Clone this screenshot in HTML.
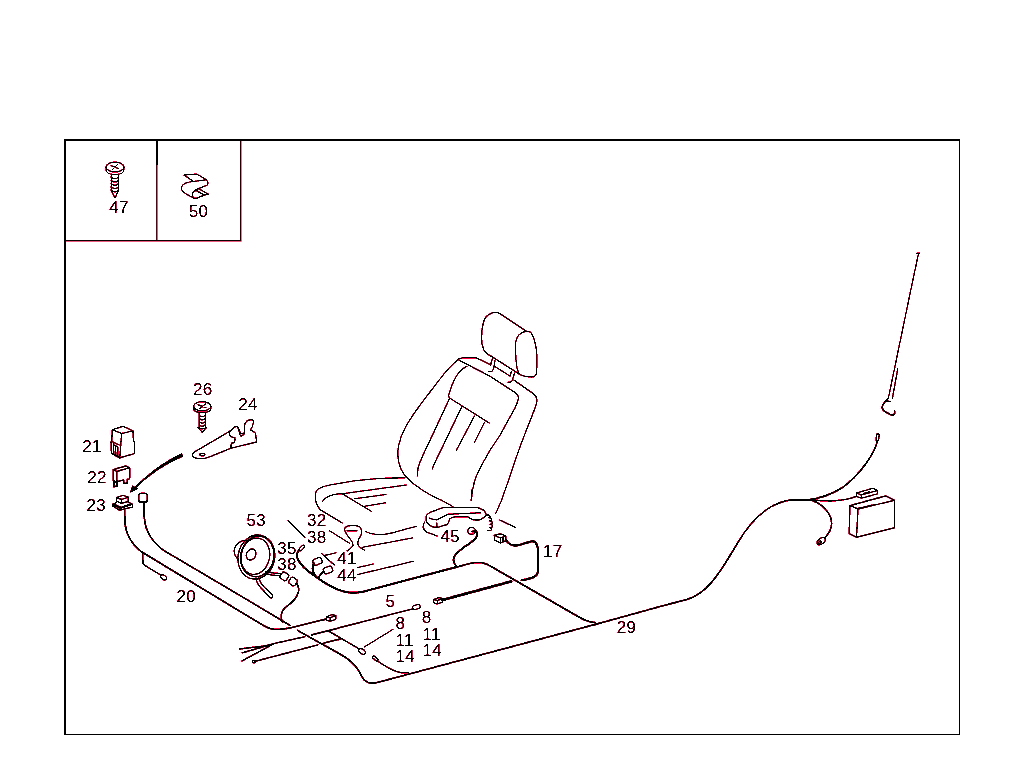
<!DOCTYPE html>
<html>
<head>
<meta charset="utf-8">
<title>Diagram</title>
<style>
html,body{margin:0;padding:0;background:#fff;}
body{width:1024px;height:784px;overflow:hidden;}
svg{display:block;}
svg text{font-family:"Liberation Sans",sans-serif;font-size:17px;fill:#0c0003;letter-spacing:0.3px;}
.t{fill:none;stroke:#0c0003;stroke-width:1.05;stroke-linecap:round;stroke-linejoin:round;}
.c{fill:none;stroke:#0c0003;stroke-width:1.5;stroke-linecap:round;stroke-linejoin:round;}
.k{fill:none;stroke:#0c0003;stroke-width:2.4;stroke-linecap:round;stroke-linejoin:round;}
.w{fill:#fff;}
</style>
</head>
<body>
<svg width="1024" height="784" viewBox="0 0 1024 784">
<rect x="0" y="0" width="1024" height="784" fill="#fff"/>

<defs>
<filter id="q" x="0" y="0" width="1024" height="784" filterUnits="userSpaceOnUse" color-interpolation-filters="sRGB">
<feComponentTransfer in="SourceAlpha" result="lo"><feFuncA type="discrete" tableValues="0 0 0 1 1 1 1 1 1 1 1 1"/></feComponentTransfer>
<feFlood flood-color="#ff0040" result="rf"/>
<feComposite operator="in" in="rf" in2="lo" result="red"/>
<feComponentTransfer in="SourceAlpha" result="hi"><feFuncA type="discrete" tableValues="0 0 0 0 0 0 1 1 1 1 1 1"/></feComponentTransfer>
<feFlood flood-color="#000000" result="bf"/>
<feComposite operator="in" in="bf" in2="hi" result="blk"/>
<feMerge><feMergeNode in="red"/><feMergeNode in="blk"/></feMerge>
</filter>
<filter id="qt" x="0" y="0" width="1024" height="784" filterUnits="userSpaceOnUse" color-interpolation-filters="sRGB">
<feComponentTransfer in="SourceAlpha" result="lo"><feFuncA type="discrete" tableValues="0 0 0 0 1 1 1 1 1 1 1 1"/></feComponentTransfer>
<feFlood flood-color="#ff0040" result="rf"/>
<feComposite operator="in" in="rf" in2="lo" result="red"/>
<feComponentTransfer in="SourceAlpha" result="hi"><feFuncA type="discrete" tableValues="0 0 0 0 0 0 0 1 1 1 1 1"/></feComponentTransfer>
<feFlood flood-color="#000000" result="bf"/>
<feComposite operator="in" in="bf" in2="hi" result="blk"/>
<feMerge><feMergeNode in="red"/><feMergeNode in="blk"/></feMerge>
</filter>
</defs>
<!-- FRAME -->
<g fill="#000" shape-rendering="crispEdges">
<rect x="64" y="139" width="2" height="596"/>
<rect x="64" y="139" width="896" height="2"/>
<rect x="959" y="139" width="1" height="596"/>
<rect x="64" y="734" width="896" height="1"/>
<rect x="156" y="141" width="2" height="24"/>
</g>
<g fill="#0a0002">
<rect x="156.1" y="165" width="1.2" height="76"/>
<rect x="240" y="141" width="1.2" height="100"/>
<rect x="66" y="240" width="175.2" height="1.2"/>
</g>
<g fill="#ff0040" fill-opacity="0.8">
<rect x="157.3" y="165" width="0.6" height="75"/>
<rect x="241.2" y="141" width="0.5" height="100"/>
<rect x="66" y="241.2" width="175.7" height="0.7"/>
</g>

<!-- LABELS -->
<g id="labels" filter="url(#qt)">
<text x="109.3" y="212.6">47</text>
<text x="188.7" y="217">50</text>
<text x="193" y="395">26</text>
<text x="238.3" y="410">24</text>
<text x="82.3" y="452">21</text>
<text x="87.3" y="483">22</text>
<text x="86.6" y="511">23</text>
<text x="246.4" y="526">53</text>
<text x="307.1" y="526">32</text>
<text x="307.1" y="542.5">38</text>
<text x="277.3" y="553.5">35</text>
<text x="277.3" y="570">38</text>
<text x="337.2" y="564">41</text>
<text x="337.2" y="581">44</text>
<text x="440.6" y="542">45</text>
<text x="543" y="556.5">17</text>
<text x="385.6" y="607">5</text>
<text x="395.6" y="629">8</text>
<text x="395.6" y="645.5">11</text>
<text x="395.6" y="661.5">14</text>
<text x="421.8" y="622.5">8</text>
<text x="422.6" y="639.5">11</text>
<text x="422.6" y="655.5">14</text>
<text x="176.4" y="601.5">20</text>
<text x="616.8" y="633">29</text>
</g>

<!-- PARTS -->
<g id="parts" filter="url(#q)">
<!-- screw 47 -->
<g class="t">
<ellipse cx="115" cy="167" rx="8.9" ry="5"/>
<path d="M106.1 167 V170 C106.1 176 123.9 176 123.9 170 V167"/>
<path d="M111 165.5 L118.5 168.5 M117.5 164.5 L112.5 169.5"/>
<path d="M111.3 174.5 V190.5 M118.4 174.5 V190.5"/>
<path d="M111.3 177 Q115 180.5 118.4 177 M111.3 180.3 Q115 183.8 118.4 180.3 M111.3 183.6 Q115 187.1 118.4 183.6 M111.3 186.9 Q115 190.4 118.4 186.9 M111.3 190.2 Q115 193.7 118.4 190.2"/>
<path d="M111.3 190.5 L115 198 L118.4 190.5"/>
</g>
<!-- clip 50 -->
<g class="t">
<path d="M184 175 L196.9 174.1 L206.3 179.8 L193.8 181.6 Z"/>
<path d="M193.8 181.6 C187 182 182 184 181.3 188 C181 191 183 192.5 193.8 198 C196 198.5 198 198 199.5 197 L208.1 194.1"/>
<path d="M206.3 179.8 C208.5 182 208.5 184.5 206.5 185.6 L198.8 188.6 C194.5 190 192.5 192 192.3 195 C192.3 196.8 193 197.6 194 198"/>
<path d="M198.8 188.8 L208.1 194.1 M196.9 190.8 L204.6 195.2"/>
<path d="M193 192 C195 189.8 198.5 190.5 198.8 192.5"/>
</g>
<!-- screw 26 -->
<g class="t">
<ellipse cx="202.3" cy="406.3" rx="8.6" ry="4.6"/>
<path d="M193.7 406.3 V408.5 C193.7 414 210.9 414 210.9 408.5 V406.3"/>
<path d="M198 404.8 L206 407.8 M205.5 403.8 L199.5 408.8"/>
<path d="M199.2 412.5 V427.5 M205.5 412.5 V427.5"/>
<path d="M199.2 415 Q202.3 418.5 205.5 415 M199.2 418.2 Q202.3 421.7 205.5 418.2 M199.2 421.4 Q202.3 424.9 205.5 421.4 M199.2 424.6 Q202.3 428.1 205.5 424.6"/>
<path d="M197.8 427.2 L202.3 432.5 L206.8 427.2 Q202.3 430.5 197.8 427.2"/>
</g>
<!-- bracket 24 -->
<g class="t" style="stroke-width:1.1">
<path d="M229.8 431.3 L194 452.3 C191 454.5 192 457 195.5 458 C199 459 204 458.8 208 457.5 L231 448.3"/>
<path d="M229.8 431.3 L234.6 427 C236.4 426 237.6 426.6 238.2 428 L239.4 432.6 C239.8 434.6 240.2 435.8 241 436.2 C242.2 436.2 243.4 435 244.2 433.8 L244.8 423.4 C245.8 421.8 249 419.8 251 419.4 C253 419.4 253.8 421 253.4 422.6 L252.4 426.6 C251.2 428 250.4 429 250.6 430 C252 431 254.2 431.8 255.4 433.1 L256.7 441.9 L231 448.3"/>
<path d="M229.8 431.3 C229.2 433 229.4 435 230.4 436.4 C232 437.6 233.6 437 234.8 437.6 C235.4 439.4 235 441.4 234 442.5 C233 443.2 232.2 442.8 231.6 443.2 C231 444.8 230.8 446.6 231 448.3"/>
<path d="M238.2 428 L240.6 433.4 L244.2 433.8"/>
<ellipse cx="202.3" cy="454.6" rx="2.5" ry="1.4"/>
</g>
<!-- relay 21 -->
<g class="t" style="stroke-width:1.1">
<path d="M112.3 429.8 L122.9 426.3 L132.9 430.8 L121.6 433.5 Z"/>
<path d="M112.3 429.8 L111.8 440.5 L111 441.5 L111.4 453.5 L119.8 457.9 L134.5 453.5 L134.5 442.3 L133.5 441 L132.9 430.8"/>
<path d="M121.6 433.5 L119.8 457.9"/>
<path d="M111.8 441.5 L119.3 445 M113.5 443.5 L113.8 454.5 M113.5 444.8 L117.8 446.8 L117.8 456.5 M115.6 447 L115.8 455.5"/>
</g>
<!-- fuse 22 -->
<g class="t" style="stroke-width:1.1">
<path d="M113.2 469.6 L126 465.9 L129.7 467.7 L116.9 471.4 Z"/>
<path d="M113.2 469.6 L113.2 480.4 M116.9 471.4 L116.9 481.6 L123.6 480 M129.7 467.7 L129.7 478.8 L127.3 479.4"/>
<path d="M113.8 481 L113.8 486.7 L117.2 486.1 L117.2 482.4 Z" style="stroke-width:1.5"/>
<path d="M123.6 480 L123.6 483.6 L127.3 483 L127.3 479.4" style="stroke-width:1.5"/>
</g>
<!-- connector 23 -->
<g class="t" style="stroke-width:1.1">
<path d="M116.4 497.4 L123.4 495.2 L128.4 497.2 L128 501.6 L121.4 503.4 L116.6 501 Z"/>
<path d="M116.4 497.4 L121.6 499.4 L128.4 497.2 M121.6 499.4 L121.4 503.4"/>
<path d="M116.6 502.6 L112.4 504.2 L119.9 508.4 L132.6 504.2 L128.4 502.3"/>
<path d="M112.4 504.2 L112.4 505.8 L119.4 510.3 L132.6 507 L132.6 504.2 M119.9 508.4 L119.6 510.3"/>
<path d="M115 504.6 L121 507.2 L129 504.6"/>
</g>
<!-- small square connector -->
<rect class="c" x="138.6" y="493.4" width="8.8" height="8.8" rx="2.5" ry="2.5" style="stroke-width:1.4"/>
<!-- arrow -->
<path d="M181.6 453.5 L177.2 455.7 L172.9 458.0 L168.7 460.4 L164.5 463.0 L160.4 465.7 L156.3 468.6 L152.4 471.5 L148.5 474.7 L144.7 477.9 L140.9 481.3 L137.2 484.8 L133.6 488.4 L134.4 489.2 L138.1 485.7 L141.8 482.3 L145.6 479.0 L149.5 476.0 L153.5 473.0 L157.5 470.2 L161.6 467.6 L165.7 465.1 L170.0 462.7 L174.2 460.5 L178.6 458.4 L183.0 456.5 Z" fill="#000" stroke="#000" stroke-width="0.4" stroke-linejoin="round"/>
<path d="M130.3 492.5 L132.4 485.8 L138.3 488.6 Z" fill="#000" stroke="#000" stroke-width="0.4" stroke-linejoin="round"/>
<!-- cable A (from 23) -->
<path class="c" d="M124.7 510.5 L124.8 521 C125.6 533 131.5 544 141 551.5 L263.6 625.6 C268 628.3 272 629.4 277 629.4 C282 629.4 287 628.6 291.8 627.5 L326.4 619"/>
<!-- connector at end of A -->
<g class="t" style="stroke-width:1.1">
<path d="M326.6 616.8 L332 614.5 L335.8 615.6 L335.8 619.2 L330.3 621.2 L326.6 620.2 Z M326.6 616.8 L330.3 617.8 L335.8 615.6 M330.3 617.8 L330.3 621.2"/>
</g>
<!-- branch from A -->
<path class="c" style="stroke-width:1.3" d="M142.6 553.8 L143 563 C143 564 143.4 564.5 144.2 565 L160.5 575"/>
<ellipse class="t" cx="163.6" cy="577.3" rx="3.4" ry="2" transform="rotate(35 163.6 577.3)" style="stroke-width:1.1"/>
<!-- cable B (from small square) -->
<path class="c" d="M143.8 502.5 L144.3 518 C145.3 530 152 542 164 550.6 L244 597.8 L289.9 625.4"/>
<!-- bottom cable continuing to 29 -->
<path class="c" d="M297.4 630.3 L340 654 C350 659.5 355 664 359.5 672 C363 679 365 683.2 372 683.2 C376 683.2 378 682.3 382 681.2 L595 624.5"/>
<!-- S cable from connector 38 -->
<path class="c" style="stroke-width:1.4" d="M296.8 583.5 C298.6 586 299 589 298.4 592 C297 598 291 603.5 286.5 606.5 C282 610 281 614 281.3 618 L282.4 622"/>
<!-- speaker 53 -->
<g class="t" style="stroke-width:1.1">
<ellipse cx="256.4" cy="557" rx="18.3" ry="22.2" transform="rotate(12 256.4 557)"/>
<ellipse cx="257.2" cy="556.4" rx="16.6" ry="20.4" transform="rotate(12 257.2 556.4)"/>
<ellipse cx="255.4" cy="556.2" rx="14.2" ry="18.4" transform="rotate(12 255.4 556.2)"/>
<ellipse cx="251.1" cy="554.5" rx="4.6" ry="5.8" transform="rotate(25 251.1 554.5)"/>
<path d="M246 540.5 C241 540 236 543.5 234.5 548.5 C233.5 552.5 234.5 556 238 559"/>
<path d="M265.5 571.6 C270 572.5 275 573.5 280.5 573.6 M264.5 573.6 C270 575 275 575.6 279.9 575.7"/>
<path d="M256.1 578.1 C256.5 582 258.5 585.5 261.5 588.5 L269.5 597 M258.6 577.5 C259.5 581 261.5 584.5 264.3 587.2 L271.6 594.2"/>
<path d="M269.5 597 C270.5 598.6 272.3 598.4 272.6 597 C272.8 596 272.4 595 271.6 594.2"/>
<rect x="280.6" y="572.6" width="7.4" height="7.4" rx="2" transform="rotate(35 284.3 576.3)"/>
<rect x="289.3" y="577.8" width="7.4" height="7.4" rx="2" transform="rotate(35 293 581.5)"/>
</g>
<!-- 35 loop + cable under seat front -->
<ellipse class="t" cx="301.8" cy="548" rx="3.6" ry="1.5" transform="rotate(-48 301.8 548)" style="stroke-width:1.1"/>
<path class="c" style="stroke-width:1.75" d="M299 550 C296.5 553 296.5 557 298.5 560.5 C302 567 308 571.5 315.5 576.5 C325 583.5 334 589 344 591.5 C350 593 356 593 362 592 L457 566.8"/>
<path class="c" d="M299 550 C296.5 553 296.5 557 298.5 560.5 C302 567 308 571.5 315.5 576.5 C325 583.5 334 589 344 591.5 C350 593 356 593 362 592 L470 563.5 C474 562.5 478 562.2 482 562.8 C486 563.5 489 565 492 567 L578 616.5 C583 619.5 588 622 595 622.6"/>
<!-- connectors 41/44 -->
<g class="t" style="stroke-width:1.1">
<rect x="313" y="558.3" width="9" height="6.2" rx="2" transform="rotate(-22 317.5 561.4)"/>
<rect x="323.5" y="566.9" width="9" height="6.2" rx="2" transform="rotate(-22 328 570)"/>
</g>
<path class="c" style="stroke-width:2" d="M313.8 563.2 C312.6 566 312.6 570 313.4 572.5 L315.5 576"/>
<path class="c" style="stroke-width:1.7" d="M323.8 571.5 C321.5 573 320 575 318.5 577.5"/>
<!-- leaders -->
<g class="t" style="stroke-width:1.1">
<path d="M288 520.6 L304.9 537.5"/>
<path d="M329.3 530.6 L349.3 543.1"/>
<path d="M321.1 553.1 L334.3 565 M324.3 555.6 L336.1 552.8"/>
</g>
<!-- wire 5 and fan -->
<g class="c" style="stroke-width:1.3">
<path d="M239.3 649 L265.5 645.9 L275 643.4 L305 636.6"/>
<path d="M311.4 635 L412.7 608.8"/>
<path d="M242 652.8 L271 644.6"/>
<path d="M242 660.9 L273 644.2"/>
<path d="M254.9 661.3 L318 644.8 M323.6 643.2 L340.5 639"/>
<path d="M328.3 630.9 L359.3 649"/>
<path d="M378 661.2 C384 665.5 390 669.5 397 671.5 C401 672.8 404 673 408 672.5"/>
</g>
<g class="t" style="stroke-width:1.1">
<circle cx="253.9" cy="661.6" r="1.4"/>
<rect x="412.6" y="604.9" width="7.6" height="4.2" rx="1.8" transform="rotate(-14 416.4 607)"/>
<ellipse cx="362" cy="651.4" rx="3.8" ry="2.3" transform="rotate(35 362 651.4)"/>
<rect x="372" y="657.2" width="6.6" height="2.6" rx="1.3" transform="rotate(38 375.3 658.5)"/>
<path d="M364.5 646.9 L393 629.4"/>
</g>
<!-- thick cable with connector (8/11/14 right) -->
<path class="k" d="M442.5 600 L511.3 581.3"/>
<g class="t" style="stroke-width:1.1">
<path d="M433.6 599.4 L438.6 597.4 L442.6 598.6 L442.6 602 L437.4 604 L433.6 602.8 Z M433.6 599.4 L437.4 600.6 L442.6 598.6 M437.4 600.6 L437.4 604"/>
</g>
<!-- SEAT -->
<g class="t">
<!-- headrest -->
<path d="M491.3 356.3 C487 354 485 352.5 483.8 350 C482 346 481.4 342 481.6 337.5 C481.6 332 482 328 483.1 323.8 C484 319.5 485.5 316.8 488.1 315 C490.5 313 493 312.2 495.6 312.2 C497.5 312.3 499 313 500 313.8 L526.3 331.3"/>
<path d="M526.3 331.3 C528.5 331 530.3 331.6 531.3 333.1 C533.2 336 534.3 339 535 342.5 C536.2 347 536.9 351.5 536.9 356.3 C537.2 362 537 368 536.3 373.8 C535.6 376 534.3 376.9 532.5 376.9 C530 377 527.5 376.9 525 376.3 C522.5 375.8 520.5 375 518.8 373.8 C517 369.5 516.3 365 516 360 C515.5 354 515.4 348 515.6 342.5 C516 339.5 517 337 518.8 335 C520.5 333 523 331.8 526.3 331.3 Z"/>
<path d="M491.3 356.3 L518.8 373.8"/>
<path d="M492.5 358.1 L490.6 365 M495 360 L493.8 367.5 C493.4 369.5 492.8 370.8 491.9 371.3 C491 371.7 490 371.7 488.8 371.5"/>
<path d="M511.3 371.3 L510 376.3 M514.4 373.1 L512.5 380 C512 381.2 511.4 381.8 510.6 382 C509.8 382.3 509 382.3 508.1 382.3"/>
<path d="M494.4 366.3 L509.4 375.6"/>
<!-- back top -->
<path d="M458.8 358.8 C461 358 463 357.8 465 357.8 L475.6 357.5 L490.6 364.8"/>
<path d="M513.8 380 L533.8 394 C536 396 537 398 536.9 400.3 C536.8 404 535 408 533.8 411.3 L522.8 439.4 C518 452 514 464 510.8 473.8 L501.2 501.1 L495.8 513.4"/>
<path d="M458.8 360 L490 376.3 L515 392.5 C517.5 394.2 518.6 396 518.4 398 C518 401.5 516.5 405 515 408.1 L499.4 436.3 C493 445 488 453 483.8 461.3 C480 468 476.5 475 474.4 481.6 C472.8 487 471.8 493 471.3 500.3"/>
<!-- back outer left -->
<path d="M458.8 358.8 C452 364.5 445.5 371.5 439.2 380 L421.3 403.4 C415 412 410 419 405.6 426.9 C402 433.5 399.8 439.5 398.6 445.6 C397.6 451 397.6 456 398.6 461.3 C399.8 467 402 472 405.6 476.1 C410 481 415 485.5 421.3 489.4 C428 494 435 497.5 443.1 501.1 L453.1 506.6"/>
<!-- shoulder panel -->
<path d="M466.9 366.3 C462.5 368.5 459 372 456.3 376.3 C453 382 450.5 388.5 448.6 395.6 C448.6 397 449.2 398 450.2 398.4 L489.2 423"/>
<!-- pleats -->
<path d="M449.4 398.8 L429 442.5 C424.5 451.5 420.5 460 418.1 467.5 L417.3 476.1"/>
<path d="M461.9 406.6 L441.6 448.8 C438 456 434.5 463 432.2 469"/>
<path d="M474.4 416 L456.4 450.3"/>
<path d="M484.5 422.2 L474.4 442.5"/>
<!-- cushion -->
<path d="M405 477.7 L378.1 478.5 L354.7 480.8 L331.3 484.8 C326.5 485.6 323 486.5 320.3 487.9 C317 489.5 315.8 491 315.6 493.3 C315.2 496 315.2 498 315.6 500.4 C316.5 504.5 318 507.5 320.3 509.8 L342.2 523"/>
<path d="M322.7 501.2 C324 499 326 497.5 328.1 496.5 C331.5 495 335 494.2 339 493.8 L342.2 493.8 L406.3 485"/>
<path d="M342.2 493.8 L371.9 511.6"/>
<path d="M354.7 498.8 L385.9 494.4 M364.8 506.3 L385.9 502.7"/>
<path d="M365.6 531.6 C369.5 533.5 373.5 534.6 378.1 534.8 C383.5 534.8 388.5 533.8 393.8 532.4 L416.4 526.2"/>
<path d="M362.5 547.3 L412.5 537.9"/>
<path d="M357.8 567.6 L373.4 564.1 M357.8 574.6 L413.3 561.3"/>
<!-- lever -->
<path d="M344.5 529.3 C344.6 526.8 348.5 525.4 353.1 525.4 C357.5 525.4 360.8 526.6 360.9 528.5 C361.5 530.5 361.5 532 361.7 533.2 C361.2 535.5 359.5 537.5 358.6 539.4 C358 541 357.6 542.5 357.8 544.1 C358.5 546 361 548.5 364.8 550.4"/>
<path d="M344.5 529.3 C345 531.3 346 533 346.9 534.8 C348.5 537 350.5 539 351.6 541 C352.6 542.5 353.2 544 353.1 545.7 L350 548.8 L347 551"/>
<path d="M346.9 530.8 L357 530.8"/>
<!-- short line right of handset -->
<path d="M499.7 520 L515.6 527.5"/>
<path d="M471.6 490 L471.3 500.2"/>
</g>
<!-- handset 45 -->
<g class="t" style="stroke-width:1.1">
<path d="M426.3 515.8 C427.5 514 429 512.8 430.9 511.9 L443.4 507.5 L476.3 507.2 C479 507.8 481.5 508.8 483.3 510 C485 511.5 486 513 486.4 515 C484.5 517 482.5 518.5 480.9 519.4 C478 520.2 475.5 520.3 473.1 519.7 L466.9 516.6 L455.9 516.6 C453 517 451 517.6 449.7 518.9 C449 521 448.5 523 447.3 524.4 L437.2 527.5 C434.5 527.5 432.5 527 430.9 526 C428.5 524.8 427 523.3 426.3 521.3 Z"/>
<path d="M429.4 518.1 C432 519.5 434.5 520 437.2 519.7 L448.1 514.2 L480.9 512.7"/>
<path d="M436.9 522.8 L436.9 527.5"/>
<path d="M424.7 522 C423.4 523.5 423 525.5 423.1 527.5 C423.6 529.5 425 531 427 532.2 L437.2 536.1"/>
<!-- coil -->
<path d="M486.6 515 C489 514.6 490.5 515.8 490 517.2 L488.5 517.8 C491 517.5 492.3 519 491.5 520.4 L489.5 521 C492 520.8 493 522.5 492 523.8 L490 524.3 C492.3 524.3 493 526 492 527.2 L489.8 527.6 C491.8 527.8 492 529.6 490.8 530.4 L487.8 530.6"/>
<ellipse cx="471.6" cy="530.9" rx="3.8" ry="3.4"/>
<!-- connector 17 -->
<path d="M494.2 535.3 L500.5 533.7 L505.9 536.1 L505.9 540.8 L500.5 543.1 L494.6 540 Z M494.2 535.3 L500.5 538.1 L505.9 536.1 M500.5 538.1 L500.5 543.1 M503 537.3 L503 542"/>
</g>
<!-- cable from small circle -->
<path class="c" style="stroke-width:1.8" d="M472.3 531.4 L476.5 531.2 C477.5 534 477 536.5 475.5 538.4 C473 541.5 469 543.8 465.3 546.3 C461.5 549 458.5 551.5 455.9 554.1 C454 556 453.4 558 453.6 560.3 C454 563 455 565 456.7 566.6"/>
<!-- cable 17 -->
<path class="c" style="stroke-width:2" d="M505.9 540 C508 543 510.5 545 513.8 545.5 C516 545.8 518 545.3 520 544.7 L531.8 541.3 C534.2 541 535.6 542 536.3 543.9 C537.4 545.5 537.9 547.5 537.9 549.4 L537.9 571.3 C537.7 573.5 536.9 575 535.5 576 C534 577.5 531 578.2 527 579.2 L521.6 580.3"/>
<!-- cable 29 right part -->
<path class="c" d="M595 624.5 L660 606.5 L686 599.8 C696 597 704 591 711 583 C720 573 728 559 737 544 C745 530 755 518 766 510 C774 504.5 783 500.5 793 499.8 L812.5 499.8"/>
<!-- branch up -->
<path class="c" d="M808 499.8 C820 498.5 832 494 841.8 488 C851 481.5 859 473 865.3 464.5 C870 458 873.5 452 875.5 447 L877.6 440.5"/>
<rect class="t" x="876.3" y="433.6" width="2.6" height="7.2" rx="1.3" transform="rotate(8 877.6 437.2)" style="stroke-width:1.1"/>
<!-- branch mid -->
<path class="c" style="stroke-width:1.3" d="M812.5 499.8 C820 500.8 828 501 836 500.6 C844 500 851 498.5 857 496.3"/>
<g class="t" style="stroke-width:1.1">
<path d="M856.4 493 L873 488.3 L877.6 490.5 L877.6 493.8 L861.4 498.3 L856.4 496.3 Z M856.4 493 L861.4 495 L877.6 490.5 M861.4 495 L861.4 498.3"/>
<path d="M863.8 493.2 L869.6 491.8"/>
</g>
<!-- branch down -->
<path class="c" style="stroke-width:1.4" d="M812.5 500.5 C819 503 824 507 827.2 511.4 C830 515 831.5 519 831.6 523.2 C831.6 527.5 830 531.5 827.2 534.9 L824.6 538"/>
<g class="t" style="stroke-width:1.1">
<ellipse cx="821.2" cy="541.2" rx="4.6" ry="2.8" transform="rotate(-38 821.2 541.2)"/>
<ellipse cx="820" cy="542.2" rx="1.6" ry="1" transform="rotate(-38 820 542.2)"/>
</g>
<!-- box -->
<g class="t" style="stroke-width:1.1">
<path d="M850 505.6 L885.8 495.9 L894.6 500.3 L858 509.1 Z"/>
<path d="M858 509.1 L856.5 537.2 L894.6 527.6 L894.6 500.3"/>
<path d="M850 505.6 L849.1 533.4 L856.5 537.2"/>
<path d="M858.4 508.4 L873.8 504.7"/>
</g>
<!-- antenna -->
<g class="t" style="stroke-width:1.1">
<path d="M918.4 254 L911 289 L900 342 L894 371 L888.3 398.4"/>
<path d="M916.4 253.4 L920 253"/>
<path d="M897.8 368.6 L892.3 398.8"/>
<path d="M888.3 398.4 L886 400.5 M885.8 400.6 L890.4 401.8"/>
<path class="c" d="M886.6 400.5 C884 402.5 882.4 405 882.2 407.6 C882.2 409.5 883.5 410.8 885.5 411.9 L889.5 414.2 C891.5 415.2 893 415.4 893.8 414.8 C894.6 414 894.9 412.6 894.8 411"/>
</g>

</g>
</svg>
</body>
</html>
